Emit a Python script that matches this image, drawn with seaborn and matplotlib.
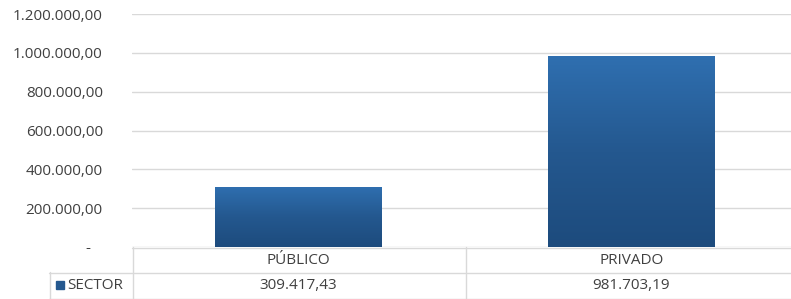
import numpy as np
import pandas as pd
import seaborn as sns
import matplotlib
matplotlib.use('Agg')
import matplotlib.pyplot as plt
from matplotlib.colors import LinearSegmentedColormap

# data
sectors = ['PÚBLICO', 'PRIVADO']
values = [309417.43, 981703.19]
series_name = 'SECTOR'
yticks = [0, 200000, 400000, 600000, 800000, 1000000, 1200000]

W, H = 791, 299
GRID = '#D9D9D9'
TXT = '#404040'
FS = 11


def fmt_es(v):
    # 1234567.8 -> 1.234.567,80
    s = f'{v:,.2f}'
    return s.replace(',', 'X').replace('.', ',').replace('X', '.')


sns.set_theme(style='white')
plt.rcParams['font.family'] = ['Open Sans', 'DejaVu Sans']

df = pd.DataFrame({'sector': sectors, 'valor': values})

fig = plt.figure(figsize=(W / 100, H / 100), dpi=100)
# the plot area runs a little past the right edge of the picture, as in the original
ax = fig.add_axes([132 / W, (H - 247) / H, (798 - 132) / W, (247 - 14) / H])

sns.barplot(data=df, x='sector', y='valor', color='#245C97', width=0.5,
            ax=ax, saturation=1)

ax.set_xlim(-0.5, 1.5)
ax.set_ylim(0, 1200000)
ax.set_yticks(yticks)
ax.set_yticklabels(['-   ' if t == 0 else fmt_es(t) for t in yticks],
                   color=TXT, fontsize=FS)
ax.tick_params(axis='y', length=0, pad=21)
ax.set_xticks([])
ax.set_xlabel('')
ax.set_ylabel('')
ax.yaxis.grid(True, color=GRID, linewidth=1)
ax.set_axisbelow(True)
for s in ax.spines.values():
    s.set_visible(False)

# gradient fill on the bars (lighter at the top, like Excel)
cmap = LinearSegmentedColormap.from_list('bar', ['#1D4B7D', '#24588F', '#2F6FB0'])
grad = np.linspace(0, 1, 256).reshape(-1, 1)
for p in list(ax.patches):
    x0, y0 = p.get_x(), p.get_y()
    w, h = p.get_width(), p.get_height()
    im = ax.imshow(grad, cmap=cmap, aspect='auto', origin='lower',
                   extent=[x0, x0 + w, y0, y0 + h], zorder=p.get_zorder() + 0.1)
    im.set_clip_path(p)
    p.set_edgecolor('none')
ax.set_xlim(-0.5, 1.5)
ax.set_ylim(0, 1200000)

# data table under the plot, in figure pixel coordinates
def px(x, y):
    return x / W, (H - y) / H

def hline(x0, x1, y):
    (a, b), (c, _) = px(x0, y), px(x1, y)
    fig.add_artist(plt.Line2D([a, c], [b, b], color=GRID, lw=1))

def vline(x, y0, y1):
    (a, b), (_, d) = px(x, y0), px(x, y1)
    fig.add_artist(plt.Line2D([a, a], [b, d], color=GRID, lw=1))

hline(132, W, 247.5)
hline(49, W, 272.5)
hline(49, W, 298.5)
vline(132.5, 247, 299)
vline(465.5, 247, 299)
vline(49.5, 272, 299)

cells = [(132, 465), (465, 798)]
for (a, b), name, v in zip(cells, sectors, values):
    cx = (a + b) / 2
    fig.text(*px(cx, 260), name, ha='center', va='center', color=TXT, fontsize=FS)
    fig.text(*px(cx, 285.5), fmt_es(v), ha='center', va='center', color=TXT, fontsize=FS)

# legend key
kx, ky = px(56, 289)
fig.add_artist(plt.Rectangle((kx, ky), 8 / W, 8 / H, color='#24588F'))
fig.text(*px(67, 285.5), series_name, ha='left', va='center', color=TXT, fontsize=FS)

fig.savefig('out.png', dpi=100)
